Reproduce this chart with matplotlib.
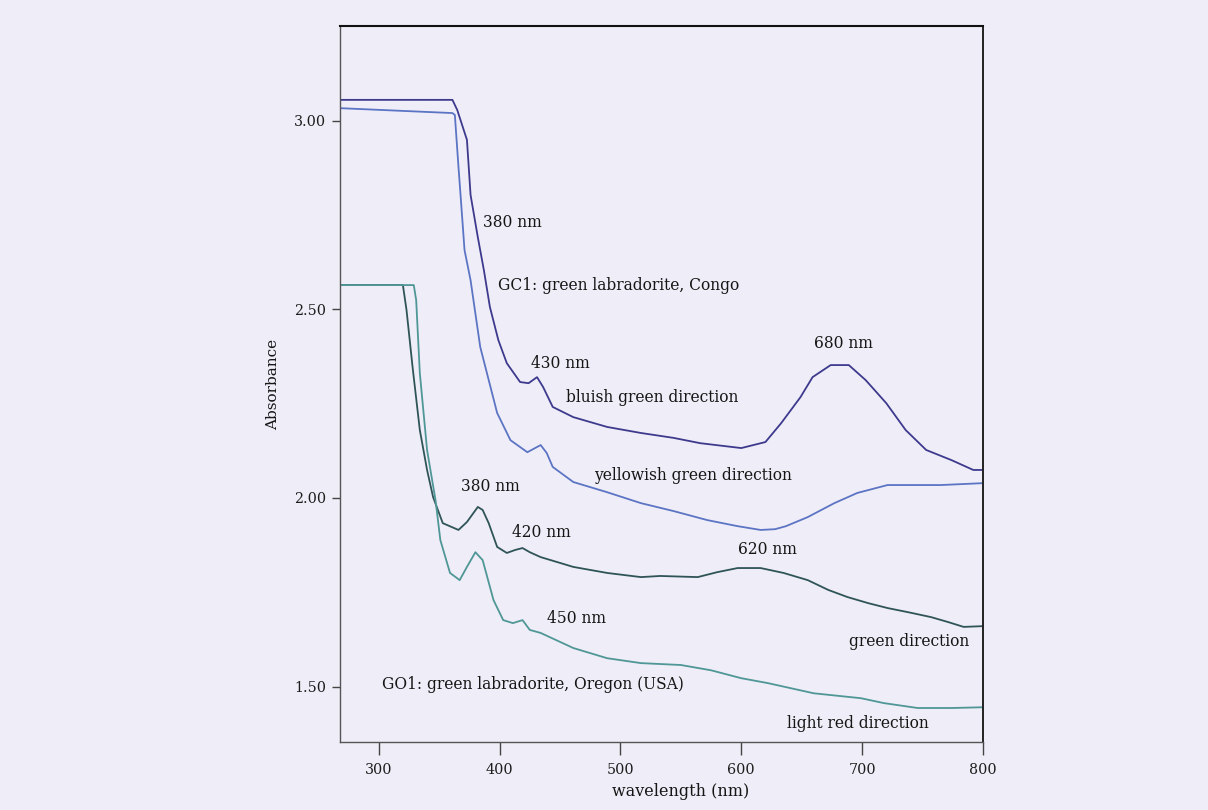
#!/usr/bin/env python3

from matplotlib import pyplot as pl

# GC1: green labradorite, Congo -- bluish green direction
gc1_blue_wl = [268, 361, 365, 373, 376, 382, 387, 392, 399, 406, 417, 424, 431,
               436, 444, 461, 489, 517, 544, 566, 600, 620, 633, 649, 659, 674,
               689, 703, 720, 736, 753, 774, 792, 800]
gc1_blue_abs = [3.055, 3.055, 3.028, 2.949, 2.803, 2.691, 2.604, 2.506, 2.418,
                2.357, 2.307, 2.304, 2.320, 2.294, 2.241, 2.214, 2.188, 2.172,
                2.159, 2.145, 2.132, 2.148, 2.198, 2.267, 2.320, 2.352, 2.352,
                2.312, 2.251, 2.180, 2.127, 2.100, 2.074, 2.074]

# GC1 -- yellowish green direction
gc1_yel_wl = [268, 361, 363, 366, 368, 371, 376, 384, 398, 409, 423, 434, 439,
              444, 461, 489, 517, 544, 572, 597, 616, 628, 637, 655, 677, 696,
              721, 765, 800]
gc1_yel_abs = [3.033, 3.020, 3.015, 2.877, 2.790, 2.657, 2.577, 2.400, 2.225,
               2.153, 2.121, 2.140, 2.119, 2.082, 2.042, 2.015, 1.986, 1.965,
               1.941, 1.925, 1.915, 1.917, 1.925, 1.949, 1.986, 2.013, 2.034,
               2.034, 2.039]

# GO1: green labradorite, Oregon (USA) -- green direction
go1_green_wl = [268, 320, 323, 328, 334, 340, 345, 353, 366, 373, 382, 386,
                391, 398, 406, 413, 419, 425, 434, 461, 489, 517, 533, 564,
                580, 597, 616, 635, 655, 672, 688, 705, 721, 738, 757, 771,
                784, 800]
go1_green_abs = [2.564, 2.564, 2.498, 2.347, 2.180, 2.074, 2.002, 1.933, 1.915,
                 1.936, 1.976, 1.968, 1.933, 1.870, 1.854, 1.862, 1.867, 1.856,
                 1.843, 1.817, 1.801, 1.790, 1.793, 1.790, 1.803, 1.814, 1.814,
                 1.801, 1.782, 1.756, 1.737, 1.721, 1.708, 1.697, 1.684, 1.671,
                 1.658, 1.660]

# GO1 -- light red direction
go1_red_wl = [268, 329, 331, 334, 340, 347, 351, 359, 367, 373, 380, 386, 395,
              403, 411, 419, 425, 434, 461, 489, 517, 550, 575, 600, 622, 660,
              699, 718, 746, 774, 800]
go1_red_abs = [2.564, 2.564, 2.524, 2.331, 2.127, 1.994, 1.888, 1.801, 1.782,
               1.817, 1.856, 1.835, 1.729, 1.676, 1.668, 1.676, 1.650, 1.642,
               1.602, 1.575, 1.562, 1.557, 1.543, 1.522, 1.509, 1.482, 1.469,
               1.456, 1.443, 1.443, 1.445]

# annotations: (text, wavelength, absorbance)
labels = [
    ('380 nm', 386, 2.729),
    ('GC1: green labradorite, Congo', 399, 2.564),
    ('430 nm', 426, 2.355),
    ('bluish green direction', 455, 2.265),
    ('680 nm', 660, 2.408),
    ('yellowish green direction', 478, 2.060),
    ('380 nm', 368, 2.029),
    ('420 nm', 410, 1.907),
    ('620 nm', 597, 1.864),
    ('450 nm', 439, 1.679),
    ('green direction', 689, 1.618),
    ('GO1: green labradorite, Oregon (USA)', 303, 1.504),
    ('light red direction', 638, 1.403),
]

bg = '#efedf7'
pl.rcParams['font.family'] = ['DejaVu Serif']

fig = pl.figure(figsize=(12.08, 8.10), dpi=100, facecolor=bg)
ax = fig.add_axes([0.2815, 0.084, 0.5322, 0.884])
ax.set_facecolor(bg)

ax.plot(gc1_blue_wl, gc1_blue_abs, color='#3d3a8e', lw=1.3)
ax.plot(gc1_yel_wl, gc1_yel_abs, color='#5b74c4', lw=1.3)
ax.plot(go1_green_wl, go1_green_abs, color='#2f5458', lw=1.3)
ax.plot(go1_red_wl, go1_red_abs, color='#4f9796', lw=1.3)

for text, x, y in labels:
    ax.text(x, y, text, ha='left', va='center', fontsize=11.2, color='#161616')

ax.set_xlim(268, 800)
ax.set_ylim(1.353, 3.251)
ax.set_xticks([300, 400, 500, 600, 700, 800])
ax.set_yticks([1.5, 2.0, 2.5, 3.0])
ax.set_yticklabels(['1.50', '2.00', '2.50', '3.00'])

ax.tick_params(axis='x', direction='out', length=9, width=1, colors='#444444',
               labelsize=10.3, labelcolor='#1c1c1c', pad=6)
ax.tick_params(axis='y', direction='out', length=6, width=1, colors='#444444',
               labelsize=10.3, labelcolor='#1c1c1c', pad=4)

for side in ['left', 'bottom']:
    ax.spines[side].set_color('#555555')
    ax.spines[side].set_linewidth(1.0)
ax.spines['top'].set_color('#111111')
ax.spines['top'].set_linewidth(1.5)
ax.spines['right'].set_color('#222222')
ax.spines['right'].set_linewidth(1.4)

ax.set_xlabel('wavelength (nm)', fontsize=11.5, color='#161616')
ax.xaxis.set_label_coords(0.53, -0.058)
ax.set_ylabel('Absorbance', fontsize=11, color='#161616')
ax.yaxis.set_label_coords(-0.093, 0.5)

fig.savefig('out.png', dpi=100, facecolor=bg)
